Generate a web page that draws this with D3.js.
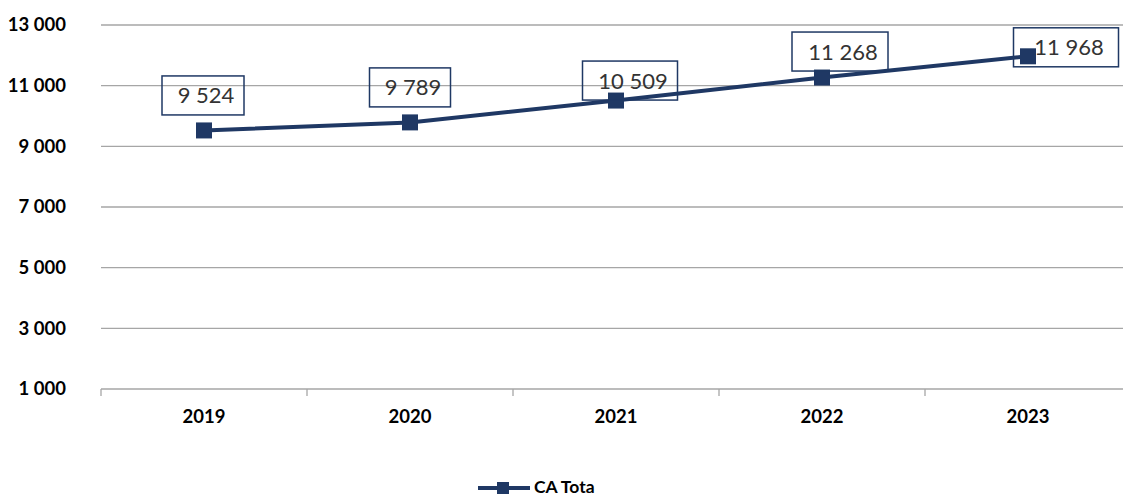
<!DOCTYPE html>
<html>
<head>
<meta charset="utf-8">
<script src="https://cdn.jsdelivr.net/npm/d3@7"></script>
<style>
  html, body { margin: 0; padding: 0; background: #fff; }
  svg { display: block; }
  text { font-family: Lato, "Open Sans", sans-serif; }
</style>
</head>
<body>
<svg id="chart" width="1123" height="498"></svg>
<script>
// Chiffre d'affaires total par année
const years = ["2019", "2020", "2021", "2022", "2023"];
const caTotal = [9524, 9789, 10509, 11268, 11968];
const yTicks = [1000, 3000, 5000, 7000, 9000, 11000, 13000];
const seriesName = "CA Tota";

const W = 1123, H = 498;
const navy = "#1f3864";
const grid = "#a6a6a6";

const svg = d3.select("#chart");

const x = d3.scaleBand().domain(years).range([101, 1131]);
const y = d3.scaleLinear().domain([1000, 13000]).range([389, 25]);

const fmt = v => d3.format(",")(v).replace(/,/g, " ");

// horizontal gridlines
svg.append("g")
  .selectAll("line")
  .data(yTicks.filter(d => d !== 1000))
  .join("line")
  .attr("x1", 101).attr("x2", W)
  .attr("y1", d => y(d)).attr("y2", d => y(d))
  .attr("stroke", grid).attr("stroke-width", 1.3);

// y axis labels
const yAxis = svg.append("g")
  .attr("transform", "translate(101,0)")
  .call(d3.axisLeft(y).tickValues(yTicks).tickFormat(fmt).tickSize(0).tickPadding(35));
yAxis.select(".domain").remove();
yAxis.selectAll("text")
  .attr("font-family", "Lato, sans-serif")
  .attr("font-size", 18.5)
  .attr("font-weight", "bold")
  .attr("fill", "#000");

// x axis
const xAxis = svg.append("g")
  .attr("transform", "translate(0,389)")
  .call(d3.axisBottom(x).tickSize(0).tickPadding(21));
xAxis.select(".domain").attr("stroke", grid).attr("stroke-width", 1.3)
  .attr("d", `M101,0H${W}`);
xAxis.selectAll("text")
  .attr("font-family", "Lato, sans-serif")
  .attr("font-size", 18.5)
  .attr("font-weight", "bold")
  .attr("fill", "#000");
// category separators
svg.append("g")
  .selectAll("line")
  .data(years)
  .join("line")
  .attr("x1", d => x(d)).attr("x2", d => x(d))
  .attr("y1", 389).attr("y2", 396)
  .attr("stroke", grid).attr("stroke-width", 1.3);

const cx = d => x(d) + x.bandwidth() / 2;
const pts = years.map((yr, i) => ({ yr, v: caTotal[i] }));

// series line
svg.append("path")
  .datum(pts)
  .attr("fill", "none")
  .attr("stroke", navy)
  .attr("stroke-width", 4)
  .attr("d", d3.line().x(d => cx(d.yr)).y(d => y(d.v)));

// markers
const ms = 16;
svg.append("g")
  .selectAll("rect")
  .data(pts)
  .join("rect")
  .attr("x", d => cx(d.yr) - ms / 2)
  .attr("y", d => y(d.v) - ms / 2)
  .attr("width", ms).attr("height", ms)
  .attr("fill", navy);

// value labels in framed boxes (offset from their point, box width)
const labelLayout = [
  { dx: -1, dy: -35, w: 82 },
  { dx: 0, dy: -35, w: 81 },
  { dx: 14, dy: -20, w: 95 },
  { dx: 18, dy: -26, w: 96 },
  { dx: 38, dy: -9, w: 105 }
];
const lbl = svg.append("g")
  .selectAll("g")
  .data(pts)
  .join("g")
  .attr("transform", (d, i) =>
    `translate(${cx(d.yr) + labelLayout[i].dx},${y(d.v) + labelLayout[i].dy})`);
lbl.append("rect")
  .attr("x", (d, i) => -labelLayout[i].w / 2)
  .attr("y", -19.5)
  .attr("width", (d, i) => labelLayout[i].w)
  .attr("height", 39)
  .attr("fill", "none")
  .attr("stroke", navy)
  .attr("stroke-width", 1.5);
lbl.append("text")
  .attr("x", 3)
  .attr("y", 8)
  .attr("text-anchor", "middle")
  .attr("font-size", 22)
  .attr("fill", "#333")
  .text(d => fmt(d.v));

// legend
const lg = svg.append("g").attr("transform", "translate(478,488)");
lg.append("line")
  .attr("x1", 0).attr("x2", 52).attr("y1", 0).attr("y2", 0)
  .attr("stroke", navy).attr("stroke-width", 4);
lg.append("rect")
  .attr("x", 25 - 6).attr("y", -6).attr("width", 12).attr("height", 12)
  .attr("fill", navy);
lg.append("text")
  .attr("x", 56).attr("y", 5)
  .attr("font-size", 17.5)
  .attr("font-weight", "bold")
  .attr("fill", "#000")
  .text(seriesName);
</script>
</body>
</html>
